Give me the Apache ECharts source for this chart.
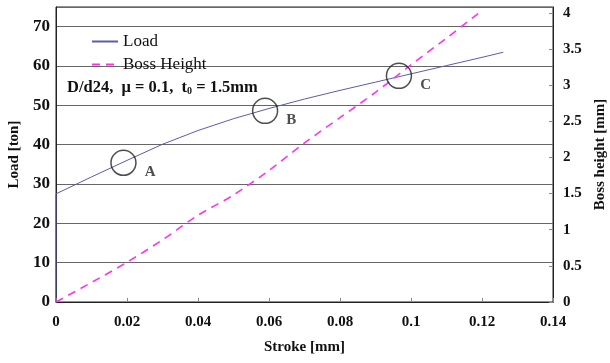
<!DOCTYPE html>
<html>
<head>
<meta charset="utf-8">
<script src="https://cdn.jsdelivr.net/npm/echarts@6/dist/echarts.min.js"></script>
<style>
  html, body { margin: 0; padding: 0; background: #fff; }
  #main { width: 610px; height: 363px; }
</style>
</head>
<body>
<div id="main"></div>
<script>
// stroke [mm]
var loadStroke = [0, 0, 0.01, 0.02, 0.03, 0.04, 0.05, 0.06, 0.07, 0.08, 0.09, 0.1, 0.11, 0.12, 0.126];
var loadValues = [0, 27.5, 31.8, 36, 40.1, 43.6, 46.6, 49.2, 51.6, 53.8, 55.9, 58, 60.1, 62.2, 63.5];

var bossStroke = [0, 0.01, 0.02, 0.03, 0.04, 0.05, 0.06, 0.07, 0.08, 0.09, 0.1, 0.11, 0.12];
var bossValues = [0, 0.27, 0.55, 0.86, 1.2, 1.48, 1.82, 2.2, 2.55, 2.9, 3.28, 3.65, 4.03];

var markerNames = ['A', 'B', 'C'];
var markerStroke = [0.019, 0.0589, 0.0966];
var markerLoad = [35.4, 48.6, 57.5];

var serif = '"Liberation Serif", "DejaVu Serif", serif';

function pairs(xs, ys) {
    return xs.map(function (x, i) { return [x, ys[i]]; });
}

var ec = echarts.init(document.getElementById('main'));
ec.setOption({
    animation: false,
    grid: {
        left: 56, right: 57, top: 7, bottom: 61,
        outerBoundsMode: 'none',
        show: true, borderColor: '#222', borderWidth: 1
    },
    legend: {
        data: ['Load', 'Boss Height'],
        orient: 'vertical',
        left: 86, top: 28,
        itemWidth: 26, itemHeight: 14, itemGap: 6,
        itemStyle: { opacity: 0 },
        textStyle: { fontFamily: serif, fontSize: 17, color: '#111' }
    },
    graphic: [{
        type: 'text',
        left: 67, top: 79,
        style: {
            text: 'D/d24,  μ = 0.1,  t{sub|0} = 1.5mm',
            font: 'bold 16.5px ' + serif,
            fill: '#111',
            rich: { sub: { fontSize: 10, fontWeight: 'bold', fontFamily: serif, padding: [8, 0, 0, 0] } }
        }
    }],
    xAxis: {
        type: 'value',
        min: 0, max: 0.14, interval: 0.02,
        name: 'Stroke [mm]',
        nameLocation: 'middle', nameGap: 38,
        nameTextStyle: { fontFamily: serif, fontWeight: 'bold', fontSize: 15, color: '#111' },
        axisLine: { lineStyle: { color: '#222' } },
        axisTick: { inside: true, length: 4, lineStyle: { color: '#888' } },
        axisLabel: { fontFamily: serif, fontWeight: 'bold', fontSize: 15, color: '#111', margin: 13,
            formatter: function (v) { return +v.toFixed(2) + ''; } },
        splitLine: { show: false }
    },
    yAxis: [{
        type: 'value',
        min: 0, max: 75, interval: 10,
        name: 'Load [ton]',
        nameLocation: 'middle', nameGap: 22, nameRotate: 90,
        nameTextStyle: { fontFamily: serif, fontWeight: 'bold', fontSize: 15, color: '#111' },
        axisLine: { show: true, lineStyle: { color: '#222' } },
        axisTick: { show: false },
        axisLabel: { fontFamily: serif, fontWeight: 'bold', fontSize: 17, color: '#111', margin: 6, showMaxLabel: false },
        splitLine: { show: true, lineStyle: { color: '#666', width: 1 } }
    }, {
        type: 'value',
        min: 0, max: 4.08, interval: 0.5,
        name: 'Boss height [mm]',
        nameLocation: 'middle', nameGap: 36, nameRotate: 90,
        nameTextStyle: { fontFamily: serif, fontWeight: 'bold', fontSize: 15, color: '#111' },
        axisLine: { show: true, lineStyle: { color: '#222' } },
        axisTick: { show: true, inside: true, length: 4, lineStyle: { color: '#888' } },
        axisLabel: { fontFamily: serif, fontWeight: 'bold', fontSize: 15, color: '#111', margin: 10, showMaxLabel: false },
        splitLine: { show: false }
    }],
    series: [{
        name: 'Load',
        type: 'line',
        yAxisIndex: 0,
        symbol: 'none',
        data: pairs(loadStroke, loadValues),
        lineStyle: { color: '#5c5ca8', width: 1 },
        itemStyle: { color: '#5c5ca8' },
        z: 3
    }, {
        name: 'Boss Height',
        type: 'line',
        yAxisIndex: 1,
        symbol: 'none',
        smooth: 0.3,
        data: pairs(bossStroke, bossValues),
        lineStyle: { color: '#ff33ee', width: 1.6, type: [8, 6] },
        itemStyle: { color: '#ff33ee' },
        z: 4
    }, {
        name: 'points',
        type: 'scatter',
        yAxisIndex: 0,
        symbol: 'circle',
        symbolSize: 25,
        data: markerStroke.map(function (x, i) {
            return { name: markerNames[i], value: [x, markerLoad[i]] };
        }),
        itemStyle: { color: 'rgba(0,0,0,0)', borderColor: '#222', borderWidth: 1.5 },
        label: {
            show: true, position: 'right', distance: 8, offset: [0, 9],
            formatter: '{b}',
            fontFamily: serif, fontWeight: 'bold', fontSize: 15, color: '#222'
        },
        emphasis: { disabled: true },
        z: 5
    }]
});
</script>
</body>
</html>
